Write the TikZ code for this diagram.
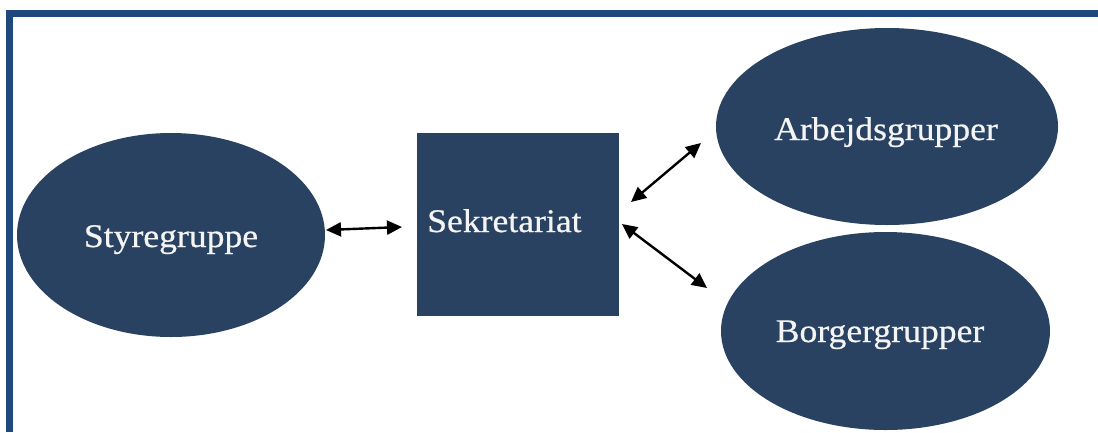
\documentclass[tikz,border=0pt]{standalone}
\usepackage{fontspec}
\setmainfont{Liberation Serif}[FakeStretch=1.08,FakeBold=0.6]
\usetikzlibrary{shapes.geometric,arrows.meta}
\definecolor{frameblue}{HTML}{1F497D}
\definecolor{navy}{HTML}{2A4261}
\definecolor{textwhite}{HTML}{F4F4F4}
\tikzset{
  blob/.style={ellipse,fill=navy,inner sep=0pt,text=textwhite,font=\fontsize{33}{38}\selectfont},
  boxnode/.style={rectangle,fill=navy,inner sep=0pt,text=textwhite,font=\fontsize{33}{38}\selectfont},
  link/.style={line width=2.4pt,{Triangle[length=15pt,width=14pt]}-{Triangle[length=15pt,width=14pt]}}
}
\begin{document}
\begin{tikzpicture}[x=1pt,y=-1pt]
\useasboundingbox (0,0) rectangle (1098,432);
\fill[frameblue] (6,10) rectangle (1098,17);
\fill[frameblue] (6,10) rectangle (13,432);
\node[blob,minimum width=308pt,minimum height=204pt] (sty) at (171,235) {};
\node[text=textwhite,font=\fontsize{33}{38}\selectfont,anchor=base] (styt) at (171,247) {Styregruppe};
\node[boxnode,minimum width=202pt,minimum height=183pt] (sek) at (518,224.5) {};
\node[text=textwhite,font=\fontsize{33}{38}\selectfont,anchor=base west,inner sep=0pt] (sekt) at (427,232) {Sekretariat};
\node[blob,minimum width=342pt,minimum height=197pt] (arb) at (887,126.5) {};
\node[text=textwhite,font=\fontsize{33}{38}\selectfont,anchor=base] (arbt) at (886,140) {Arbejdsgrupper};
\node[blob,minimum width=329pt,minimum height=198pt] (bor) at (885.5,331) {};
\node[text=textwhite,font=\fontsize{33}{38}\selectfont,anchor=base] (bort) at (880,342) {Borgergrupper};
\coordinate (a1) at (326,230);
\coordinate (a2) at (402,227);
\coordinate (b1) at (631,202);
\coordinate (b2) at (701,143);
\coordinate (c1) at (622,224);
\coordinate (c2) at (707,288);
\draw[link] (a1) -- (a2);
\draw[link] (b1) -- (b2);
\draw[link] (c1) -- (c2);
\end{tikzpicture}
\end{document}
